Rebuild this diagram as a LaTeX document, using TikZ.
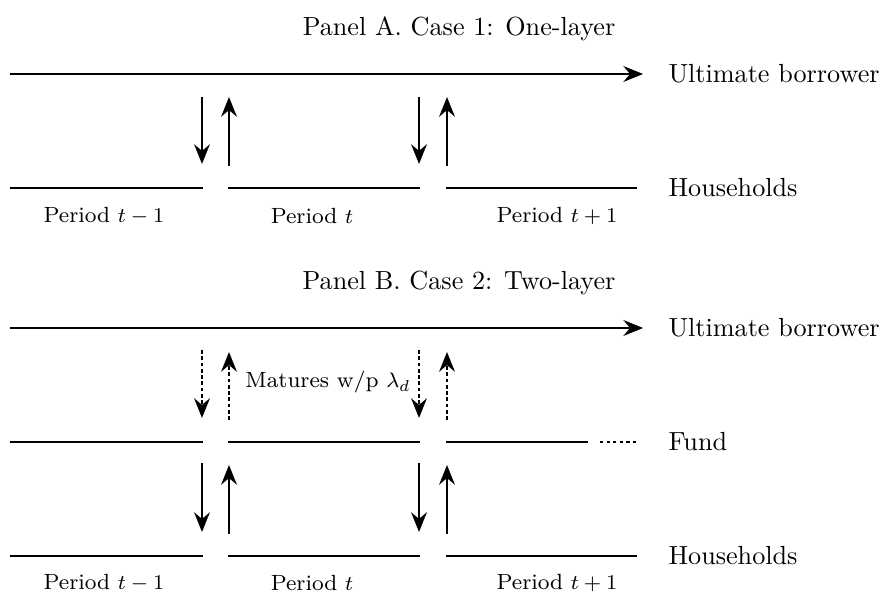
\documentclass[tikz,border=0pt]{standalone}
\usetikzlibrary{arrows.meta,calc}

\tikzset{
  layer/.style={line width=1.1pt},
  flow/.style={line width=1pt,-{Stealth[length=7.5pt,width=6pt,inset=2.5pt]}},
  maturing/.style={flow,dash pattern=on 1.4pt off 1pt},
  side/.style={anchor=west,inner sep=0pt},
  period/.style={font=\fontsize{8.4}{10}\selectfont},
}

\begin{document}
\begin{tikzpicture}[x=0.382pt,y=-0.382pt]
    \useasboundingbox (0,0) rectangle (883,593);

    % Panel A: households lend straight to the borrower
    \node (titleA) at (459,29) {Panel A. Case 1: One-layer};
    \coordinate (ubA) at (10,74);
    \node[side] (ubAlbl) at (668,74) {Ultimate borrower};
    \draw[flow,line width=1.1pt,shorten >=9.5pt] (ubA) -- (ubAlbl);

    \foreach \i/\a/\b in {1/10/203, 2/228/420, 3/446/637}
        \draw[layer] (\a,188) coordinate (hAw\i) -- (\b,188) coordinate (hAe\i);
    \node[side] (hhA) at (668,188) {Households};

    \foreach \i/\j in {1/2, 2/3} {
        \draw[flow] ($(hAe\i)+(-1,-91)$) -- ($(hAe\i)+(-1,-24)$);
        \draw[flow] ($(hAw\j)+(1,-22)$) -- ($(hAw\j)+(1,-91)$);
    }

    \node[period] (pA1) at (104,216) {Period $t-1$};
    \node[period] (pA2) at (312,216) {Period $t$};
    \node[period] (pA3) at (557,216) {Period $t+1$};

    % Panel B: a fund sits between households and the borrower
    \node (titleB) at (459,283) {Panel B. Case 2: Two-layer};
    \coordinate (ubB) at (10,328);
    \node[side] (ubBlbl) at (668,328) {Ultimate borrower};
    \draw[flow,line width=1.1pt,shorten >=9.5pt] (ubB) -- (ubBlbl);

    \foreach \i/\a/\b in {1/10/203, 2/228/420, 3/446/588}
        \draw[layer] (\a,442) coordinate (fBw\i) -- (\b,442) coordinate (fBe\i);
    \coordinate (fBmore) at (600,442);
    \coordinate (fBend) at (637,442);
    \draw[layer,dash pattern=on 1.3pt off 1.2pt] (fBmore) -- (fBend);
    \node[side] (fund) at (668,442) {Fund};

    \foreach \i/\a/\b in {1/10/203, 2/228/420, 3/446/637}
        \draw[layer] (\a,556) coordinate (hBw\i) -- (\b,556) coordinate (hBe\i);
    \node[side] (hhB) at (668,556) {Households};

    \foreach \i/\j in {1/2, 2/3} {
        % fund <-> borrower, maturing at random
        \draw[maturing] ($(fBe\i)+(-1,-92)$) -- ($(fBe\i)+(-1,-24)$);
        \draw[maturing] ($(fBw\j)+(1,-22)$) -- ($(fBw\j)+(1,-90)$);
        % households <-> fund
        \draw[flow] ($(hBe\i)+(-1,-93)$) -- ($(hBe\i)+(-1,-24)$);
        \draw[flow] ($(hBw\j)+(1,-22)$) -- ($(hBw\j)+(1,-91)$);
    }
    \node[period] (mat) at (328,382) {Matures w/p $\lambda_d$};

    \node[period] (pB1) at (104,583) {Period $t-1$};
    \node[period] (pB2) at (312,583) {Period $t$};
    \node[period] (pB3) at (557,583) {Period $t+1$};
\end{tikzpicture}
\end{document}
